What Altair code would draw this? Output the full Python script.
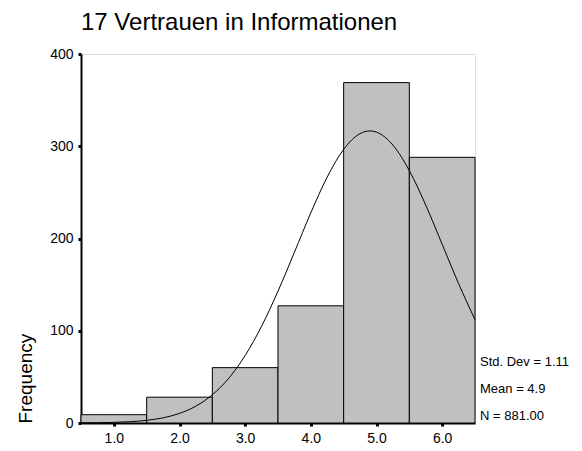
import altair as alt
import pandas as pd

# Histogram data
categories = [1.0, 2.0, 3.0, 4.0, 5.0, 6.0]
frequencies = [9, 28, 60, 127, 369, 288]

# Normal curve (mean 4.9, sd 1.11, N 881)
curve_x = [0.5, 0.75, 1.0, 1.25, 1.5, 1.75, 2.0, 2.25, 2.5, 2.75, 3.0, 3.25,
           3.5, 3.75, 4.0, 4.25, 4.5, 4.75, 4.9, 5.0, 5.25, 5.5, 5.75, 6.0,
           6.25, 6.5]
curve_y = [0.1, 0.3, 0.7, 1.4, 2.9, 5.6, 10.4, 18.3, 30.6, 48.5, 73.2, 104.9,
           142.9, 185.1, 227.9, 266.7, 296.7, 313.7, 316.6, 315.3, 301.2, 273.6,
           236.2, 193.8, 151.1, 112.0]

stats_text = "Std. Dev = 1.11\nMean = 4.9\nN = 881.00"
title_text = "17 Vertrauen in Informationen"

FONT = "Liberation Sans"
W, H = 394, 369

bars_df = pd.DataFrame({"value": categories, "freq": frequencies})
curve_df = pd.DataFrame({"x": curve_x, "y": curve_y})

xscale = alt.Scale(domain=[0.5, 6.5], nice=False, zero=False)
yscale = alt.Scale(domain=[0, 400], nice=False)

bars = alt.Chart(bars_df).transform_calculate(
    x0="datum.value - 0.5", x1="datum.value + 0.5"
).mark_rect(fill="#c0c0c0", stroke="black", strokeWidth=1).encode(
    x=alt.X("x0:Q", scale=xscale,
            axis=alt.Axis(values=categories, format=".1f", title=None, grid=False,
                          domainColor="black", domainWidth=2,
                          tickColor="black", tickSize=3, tickWidth=3,
                          labelFontSize=14, labelFont=FONT, labelColor="black",
                          labelPadding=5)),
    x2="x1:Q",
    y=alt.Y("freq:Q", scale=yscale,
            axis=alt.Axis(values=[0, 100, 200, 300, 400], title="Frequency", grid=False,
                          domainColor="black", domainWidth=2,
                          tickColor="black", tickSize=3, tickWidth=3,
                          labelFontSize=14, labelFont=FONT, labelColor="black",
                          labelPadding=5,
                          titleFont=FONT, titleFontSize=19, titleFontWeight="normal",
                          titleColor="black", titleAngle=270, titleAlign="left",
                          titleBaseline="alphabetic", titleX=-50, titleY=H)),
    y2=alt.value(H),
)

curve = alt.Chart(curve_df).mark_line(color="black", strokeWidth=1,
                                      interpolate="monotone").encode(
    x=alt.X("x:Q", scale=xscale),
    y=alt.Y("y:Q", scale=yscale),
)

stats = alt.Chart(pd.DataFrame({"t": [stats_text]})).mark_text(
    align="left", baseline="alphabetic", font=FONT, fontSize=13, color="black",
    lineBreak="\n", lineHeight=27
).encode(
    text="t:N",
    x=alt.value(W + 5),
    y=alt.value(312),
)

chart = alt.layer(bars, curve, stats).properties(
    width=W, height=H,
    title=alt.TitleParams(title_text, anchor="start", frame="group", font=FONT,
                          fontSize=24, fontWeight="normal", color="black",
                          baseline="alphabetic", dy=10.5),
    autosize=alt.AutoSizeParams(type="none"),
    padding={"left": 73, "top": 46, "right": 98, "bottom": 26},
).configure_view(stroke="black", strokeWidth=2).configure(background="white")

chart.save("out.html", embed_options={"renderer": "svg", "actions": False})
